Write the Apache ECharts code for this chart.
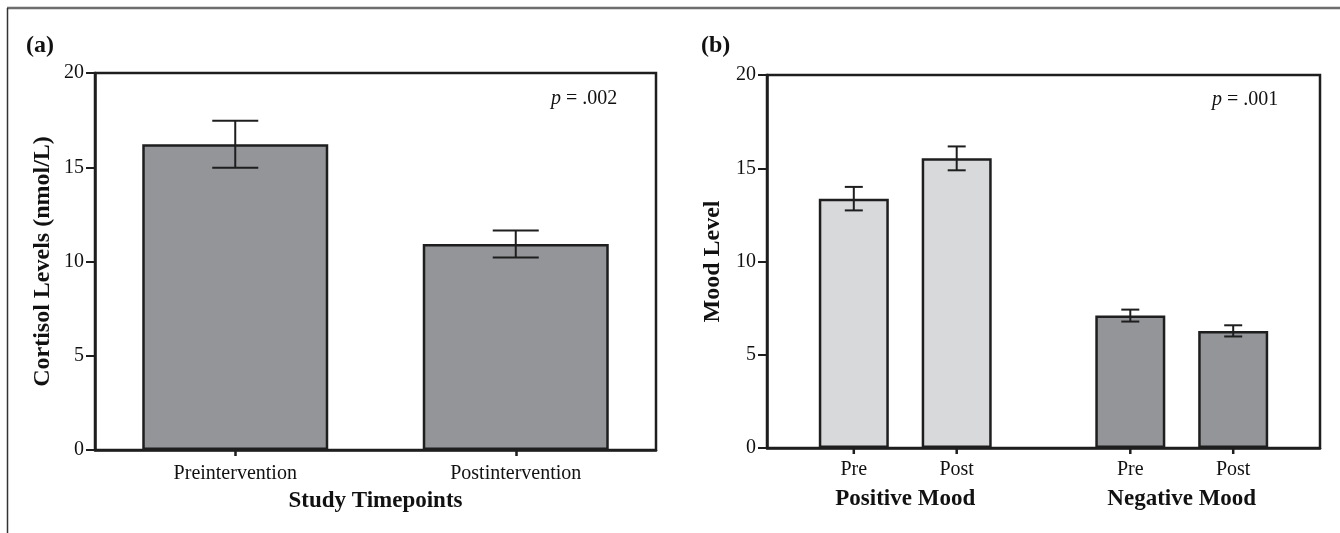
<!DOCTYPE html>
<html>
<head>
<meta charset="utf-8">
<script src="https://cdn.jsdelivr.net/npm/echarts@6/dist/echarts.min.js"></script>
<style>
html,body{margin:0;padding:0;background:#fff;}
#chart{width:1340px;height:533px;}
</style>
</head>
<body>
<div id="chart"></div>
<script>
// ---- Data ----
const studyTimepoints = ['Preintervention', 'Postintervention'];
const cortisolMean = [16.22, 10.93];
const cortisolSE = [1.25, 0.72];

const moodGroups = ['Positive Mood', 'Negative Mood'];
const moodTimes = ['Pre', 'Post'];
const moodPreMean = [13.37, 7.10];
const moodPreSE = [0.63, 0.32];
const moodPostMean = [15.53, 6.28];
const moodPostSE = [0.64, 0.30];

const yTickMin = 0, yTickMax = 20, yTickStep = 5;
const pValueA = '.002';
const pValueB = '.001';

// ---- Style ----
const SERIF = "'Liberation Serif', 'Times New Roman', 'DejaVu Serif', serif";
const DARK = '#939598';
const LIGHT = '#d8d9db';
const EDGE = '#1e1e1e';
const BAR_W_B = 70;
const BAR_GAP_B = 0.47;

const chart = echarts.init(document.getElementById('chart'), null, {renderer: 'canvas'});

function yAxisCfg(gridIndex, name, nameGap) {
  return {
    type: 'value', gridIndex: gridIndex,
    min: yTickMin, max: yTickMax, interval: yTickStep,
    name: name, nameLocation: 'middle', nameGap: nameGap,
    nameTextStyle: {fontFamily: SERIF, fontWeight: 'bold', fontSize: 24, color: '#111'},
    axisLine: {show: true, lineStyle: {color: EDGE, width: 2.5}},
    axisTick: {show: true, length: 9, lineStyle: {color: EDGE, width: 2}},
    axisLabel: {fontFamily: SERIF, fontSize: 20, color: '#111', margin: 11},
    splitLine: {show: false}
  };
}

function errRender(offsetFn, capHalf, drawTick) {
  return function (params, api) {
    const idx = api.value(0);
    const mean = api.value(1);
    const se = api.value(2);
    const off = offsetFn(params);
    const top = api.coord([idx, mean + se]);
    const bot = api.coord([idx, mean - se]);
    const base = api.coord([idx, 0]);
    const x = top[0] + off;
    const style = {stroke: EDGE, lineWidth: 2};
    const children = [
      {type: 'line', shape: {x1: x, y1: top[1], x2: x, y2: bot[1]}, style: style},
      {type: 'line', shape: {x1: x - capHalf, y1: top[1], x2: x + capHalf, y2: top[1]}, style: style},
      {type: 'line', shape: {x1: x - capHalf, y1: bot[1], x2: x + capHalf, y2: bot[1]}, style: style}
    ];
    if (drawTick) {
      children.push({type: 'line', shape: {x1: x, y1: base[1], x2: x, y2: base[1] + 6}, style: {stroke: EDGE, lineWidth: 2.5}});
    }
    return {type: 'group', children: children};
  };
}

const stepB = BAR_W_B * (1 + BAR_GAP_B);

const option = {
  animation: false,
  backgroundColor: '#fff',
  grid: [
    {left: 95, right: 1340 - 656, top: 73, bottom: 533 - 450, show: true, borderColor: EDGE, borderWidth: 2.5, backgroundColor: 'transparent'},
    {left: 767, right: 1340 - 1320, top: 75, bottom: 533 - 448, show: true, borderColor: EDGE, borderWidth: 2.5, backgroundColor: 'transparent'}
  ],
  xAxis: [
    {
      type: 'category', gridIndex: 0, data: studyTimepoints,
      name: 'Study Timepoints', nameLocation: 'middle', nameGap: 40,
      nameTextStyle: {fontFamily: SERIF, fontWeight: 'bold', fontSize: 23, color: '#111'},
      axisLine: {lineStyle: {color: EDGE, width: 2.5}},
      axisTick: {show: true, alignWithLabel: true, length: 6, lineStyle: {color: EDGE, width: 2.5}},
      axisLabel: {fontFamily: SERIF, fontSize: 20, color: '#111', margin: 14}
    },
    {
      type: 'category', gridIndex: 1, data: moodGroups,
      axisLine: {lineStyle: {color: EDGE, width: 2.5}},
      axisTick: {show: false},
      axisLabel: {fontFamily: SERIF, fontWeight: 'bold', fontSize: 23, color: '#111', margin: 40}
    }
  ],
  yAxis: [
    yAxisCfg(0, 'Cortisol Levels (nmol/L)', 40),
    yAxisCfg(1, 'Mood Level', 42)
  ],
  series: [
    {
      type: 'bar', xAxisIndex: 0, yAxisIndex: 0, barWidth: 186,
      data: cortisolMean,
      itemStyle: {color: DARK, borderColor: EDGE, borderWidth: 2.5},
      z: 2
    },
    {
      type: 'custom', xAxisIndex: 0, yAxisIndex: 0,
      data: cortisolMean.map((m, i) => [i, m, cortisolSE[i]]),
      renderItem: errRender(() => 0, 23, false),
      z: 5
    },
    {
      type: 'bar', name: moodTimes[0], xAxisIndex: 1, yAxisIndex: 1,
      barWidth: BAR_W_B, barGap: (BAR_GAP_B * 100) + '%',
      data: moodPreMean.map((v, i) => ({value: v, itemStyle: {color: i === 0 ? LIGHT : DARK}})),
      itemStyle: {borderColor: EDGE, borderWidth: 2.5},
      label: {show: true, position: 'bottom', distance: 12, formatter: moodTimes[0], fontFamily: SERIF, fontSize: 20, color: '#111'},
      z: 2
    },
    {
      type: 'bar', name: moodTimes[1], xAxisIndex: 1, yAxisIndex: 1,
      barWidth: BAR_W_B, barGap: (BAR_GAP_B * 100) + '%',
      data: moodPostMean.map((v, i) => ({value: v, itemStyle: {color: i === 0 ? LIGHT : DARK}})),
      itemStyle: {borderColor: EDGE, borderWidth: 2.5},
      label: {show: true, position: 'bottom', distance: 12, formatter: moodTimes[1], fontFamily: SERIF, fontSize: 20, color: '#111'},
      z: 2
    },
    {
      type: 'custom', xAxisIndex: 1, yAxisIndex: 1,
      data: moodPreMean.map((m, i) => [i, m, moodPreSE[i]]),
      renderItem: errRender(() => -stepB / 2, 9, true),
      z: 5
    },
    {
      type: 'custom', xAxisIndex: 1, yAxisIndex: 1,
      data: moodPostMean.map((m, i) => [i, m, moodPostSE[i]]),
      renderItem: errRender(() => stepB / 2, 9, true),
      z: 5
    }
  ],
  graphic: [
    {type: 'line', shape: {x1: 7, y1: 8, x2: 1340, y2: 8}, style: {stroke: '#6d6d6d', lineWidth: 2.5}, silent: true},
    {type: 'line', shape: {x1: 7.5, y1: 8, x2: 7.5, y2: 533}, style: {stroke: '#333', lineWidth: 1.5}, silent: true},
    {type: 'text', left: 26, top: 34, style: {text: '(a)', fontFamily: SERIF, fontWeight: 'bold', fontSize: 24, fill: '#111'}},
    {type: 'text', left: 701, top: 34, style: {text: '(b)', fontFamily: SERIF, fontWeight: 'bold', fontSize: 24, fill: '#111'}},
    {type: 'text', left: 551, top: 89, style: {
      text: '{i|p} = ' + pValueA,
      fontFamily: SERIF, fontSize: 20, fill: '#111',
      rich: {i: {fontFamily: SERIF, fontStyle: 'italic', fontSize: 20, fill: '#111'}}
    }},
    {type: 'text', left: 1212, top: 90, style: {
      text: '{i|p} = ' + pValueB,
      fontFamily: SERIF, fontSize: 20, fill: '#111',
      rich: {i: {fontFamily: SERIF, fontStyle: 'italic', fontSize: 20, fill: '#111'}}
    }}
  ]
};

chart.setOption(option);
</script>
</body>
</html>
